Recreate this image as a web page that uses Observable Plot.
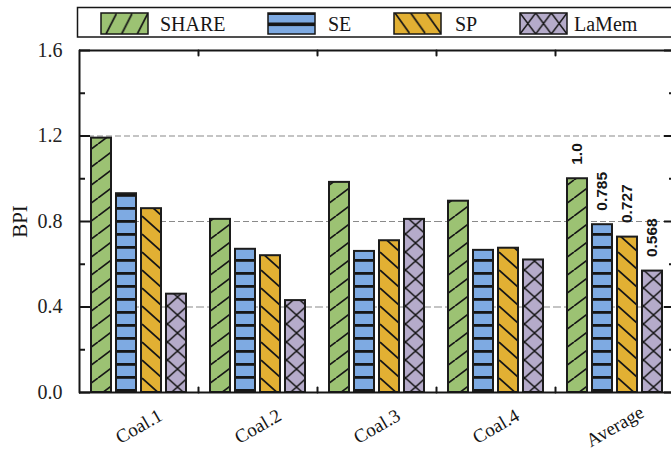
<!DOCTYPE html>
<html><head><meta charset="utf-8">
<script src="https://cdn.jsdelivr.net/npm/d3@7"></script>
<script src="https://cdn.jsdelivr.net/npm/@observablehq/plot@0.6"></script>
<style>
html,body{margin:0;padding:0;background:#fff;overflow:hidden}
#chart{width:671px;height:450px;overflow:hidden;position:relative}
#chart svg{max-width:none !important;display:block;font-family:'Liberation Serif',serif}
</style>
</head><body><div id="chart"></div>
<script>
const groups = ["Coal.1", "Coal.2", "Coal.3", "Coal.4", "Average"];
const seriesNames = ["SHARE", "SE", "SP", "LaMem"];
const shareValues = [1.19, 0.81, 0.983, 0.895, 1.0];
const seValues = [0.93, 0.67, 0.66, 0.665, 0.785];
const spValues = [0.86, 0.64, 0.71, 0.675, 0.727];
const lamemValues = [0.46, 0.43, 0.81, 0.62, 0.568];
const averageLabels = ["1.0", "0.785", "0.727", "0.568"];
const yTicks = [0, 0.4, 0.8, 1.2, 1.6];
const yMinorTicks = [0.2, 0.6, 1.0, 1.4];
const gridTicks = [0.4, 0.8, 1.2];
const seriesColors = ["#9cc273", "#7eaae2", "#e2b033", "#b5abca"];

const valueLists = [shareValues, seValues, spValues, lamemValues];
const rows = [];
groups.forEach((g, i) => {
  seriesNames.forEach((s, j) => rows.push({group: g, series: s, value: valueLists[j][i]}));
});
const avgRows = rows.filter(d => d.group === "Average").map((d, i) => ({...d, label: averageLabels[i]}));

const HEIGHT = 450, MT = 50, MB = 58;
const frameH = HEIGHT - MT - MB;
const lineShape = {draw(ctx, l) { ctx.moveTo(0, 0); ctx.lineTo(0, -l); }};
const ink = "#161616";
const serif = "'Liberation Serif', 'Times New Roman', serif";

const plot = Plot.plot({
  width: 681,
  height: HEIGHT,
  marginLeft: 77,
  marginRight: 6,
  marginTop: MT,
  marginBottom: MB,
  style: {fontFamily: serif, background: "white", color: ink, maxWidth: "none"},
  fx: {domain: groups, padding: 0, axis: null, label: null},
  x: {domain: seriesNames, paddingInner: 0.22, paddingOuter: 0.43, axis: null, label: null},
  y: {domain: [0, 1.6], axis: null, label: null},
  marks: [
    Plot.ruleY(gridTicks, {stroke: "#8a8a8a", strokeWidth: 1.1, strokeDasharray: "6,3"}),
    Plot.axisY({ticks: yTicks, tickSize: 11, dx: 11, fill: "none", label: null, stroke: ink, strokeWidth: 2}),
    Plot.axisY({ticks: yMinorTicks, tickSize: 6, dx: 6, fill: "none", label: null, stroke: ink, strokeWidth: 2}),
    Plot.axisY({anchor: "right", ticks: yTicks, tickSize: 11, dx: -11, fill: "none", label: null, stroke: ink, strokeWidth: 2}),
    Plot.axisY({anchor: "right", ticks: yMinorTicks, tickSize: 6, dx: -6, fill: "none", label: null, stroke: ink, strokeWidth: 2}),
    Plot.axisY({ticks: yTicks, tickSize: 0, tickPadding: 17, tickFormat: d3.format(".1f"), fontSize: 20, fontFamily: serif, label: null, fill: "#222"}),
    ...seriesNames.map(s => Plot.barY(rows.filter(d => d.series === s), {
      fx: "group", x: "series", y: "value",
      fill: `url(#pat-${s})`, stroke: "#1c1c1c", strokeWidth: 2
    })),
    Plot.text(avgRows, {
      fx: "group", x: "series", y: "value", text: "label",
      rotate: -90, textAnchor: "start", lineAnchor: "middle", dy: -14,
      fontFamily: "'Liberation Sans', Arial, sans-serif", fontWeight: "bold", fontSize: 15.5, fill: ink
    }),
    Plot.ruleY([0, 1.6], {stroke: ink, strokeWidth: 2}),
    Plot.vector([groups[0]], {fx: d => d, frameAnchor: "bottom-left", length: frameH, anchor: "start", shape: lineShape, stroke: ink, strokeWidth: 2}),
    Plot.vector([groups[groups.length - 1]], {fx: d => d, frameAnchor: "bottom-right", length: frameH, anchor: "start", shape: lineShape, stroke: ink, strokeWidth: 2}),
    Plot.vector(groups.slice(1), {fx: d => d, frameAnchor: "bottom-left", length: 5, anchor: "start", shape: lineShape, stroke: ink, strokeWidth: 2}),
    Plot.vector(groups.slice(1), {fx: d => d, frameAnchor: "top-left", length: 5, rotate: 180, anchor: "start", shape: lineShape, stroke: ink, strokeWidth: 2}),
    Plot.text(groups, {fx: d => d, frameAnchor: "bottom", dy: 34, text: d => d, rotate: -30, fontSize: 19, fontFamily: serif, textAnchor: "middle", lineAnchor: "middle", fill: ink}),
    Plot.text(["BPI"], {fx: () => groups[0], frameAnchor: "left", dx: -59, text: d => d, rotate: -90, fontSize: 21, fontFamily: serif, textAnchor: "middle", lineAnchor: "middle", fill: ink})
  ]
});
document.getElementById("chart").appendChild(plot);

const svgEl = plot.tagName.toLowerCase() === "svg" ? plot : plot.querySelector("svg");
svgEl.style.maxWidth = "none";
svgEl.style.fontFamily = serif;
const svg = d3.select(svgEl);
const defs = svg.insert("defs", ":first-child");

function userPattern(id, bg, w, h, px, py, build) {
  const p = defs.append("pattern").attr("id", id).attr("patternUnits", "userSpaceOnUse")
    .attr("x", px).attr("y", py).attr("width", w).attr("height", h);
  p.append("rect").attr("width", w).attr("height", h).attr("fill", bg);
  build(p, w, h);
}
const hatch = (p, d, sw) => p.append("path").attr("d", d).attr("stroke", ink).attr("stroke-width", sw).attr("fill", "none");

userPattern("pat-SHARE", seriesColors[0], 24, 18, 0, 0, (p, w, h) =>
  hatch(p, `M${-w},${h}L0,0M0,${h}L${w},0M${w},${h}L${2 * w},0`, 1.7));
userPattern("pat-SE", seriesColors[1], 10, 13, 0, 12, (p, w, h) =>
  p.append("rect").attr("y", 0).attr("width", w).attr("height", 2.8).attr("fill", ink));
userPattern("pat-SP", seriesColors[2], 20, 18, 0, 0, (p, w, h) =>
  hatch(p, `M${-w},0L0,${h}M0,0L${w},${h}M${w},0L${2 * w},${h}`, 1.7));
userPattern("pat-LaMem", seriesColors[3], 20, 18, 5.5, 0, (p, w, h) =>
  hatch(p, `M0,0L${w},${h}M0,${h}L${w},0M${-w},0L0,${h}M${-w},${h}L0,0M${w},0L${2 * w},${h}M${w},${h}L${2 * w},0`, 1.5));

function boxPattern(id, bg, fw, build) {
  const p = defs.append("pattern").attr("id", id).attr("patternUnits", "objectBoundingBox")
    .attr("width", fw).attr("height", 1);
  p.append("rect").attr("width", 60).attr("height", 30).attr("fill", bg);
  build(p);
}
const SW = 47, SH = 21;
boxPattern("leg-SHARE", seriesColors[0], 1 / 3, p => hatch(p, `M5,${SH}L15.7,0`, 1.7));
boxPattern("leg-SE", seriesColors[1], 1, p => {
  p.append("rect").attr("y", 0).attr("width", SW).attr("height", 2).attr("fill", ink);
  p.append("rect").attr("y", 9.5).attr("width", SW).attr("height", 3.6).attr("fill", ink);
});
boxPattern("leg-SP", seriesColors[2], 1 / 3, p => hatch(p, `M1,0L16,${SH}`, 1.7));
boxPattern("leg-LaMem", seriesColors[3], 1 / 3, p => hatch(p, `M0,0L15.67,${SH}M0,${SH}L15.67,0`, 1.5));

const legend = svg.append("g").attr("class", "legend").attr("text-anchor", "start");
legend.append("rect").attr("x", 77.5).attr("y", 7.5).attr("width", 700).attr("height", 29.5)
  .attr("fill", "white").attr("stroke", ink).attr("stroke-width", 1.5);
const swatchX = [101, 268, 394, 520];
const labelX = [160, 328, 455, 574];
seriesNames.forEach((s, i) => {
  legend.append("rect").attr("x", swatchX[i]).attr("y", 13).attr("width", SW).attr("height", SH)
    .attr("fill", `url(#leg-${s})`).attr("stroke", ink).attr("stroke-width", 1.5);
  legend.append("text").attr("x", labelX[i]).attr("y", 30.5).attr("font-size", 20)
    .attr("text-anchor", "start")
    .attr("font-family", serif).attr("fill", ink).text(s);
});
</script>
</body></html>
